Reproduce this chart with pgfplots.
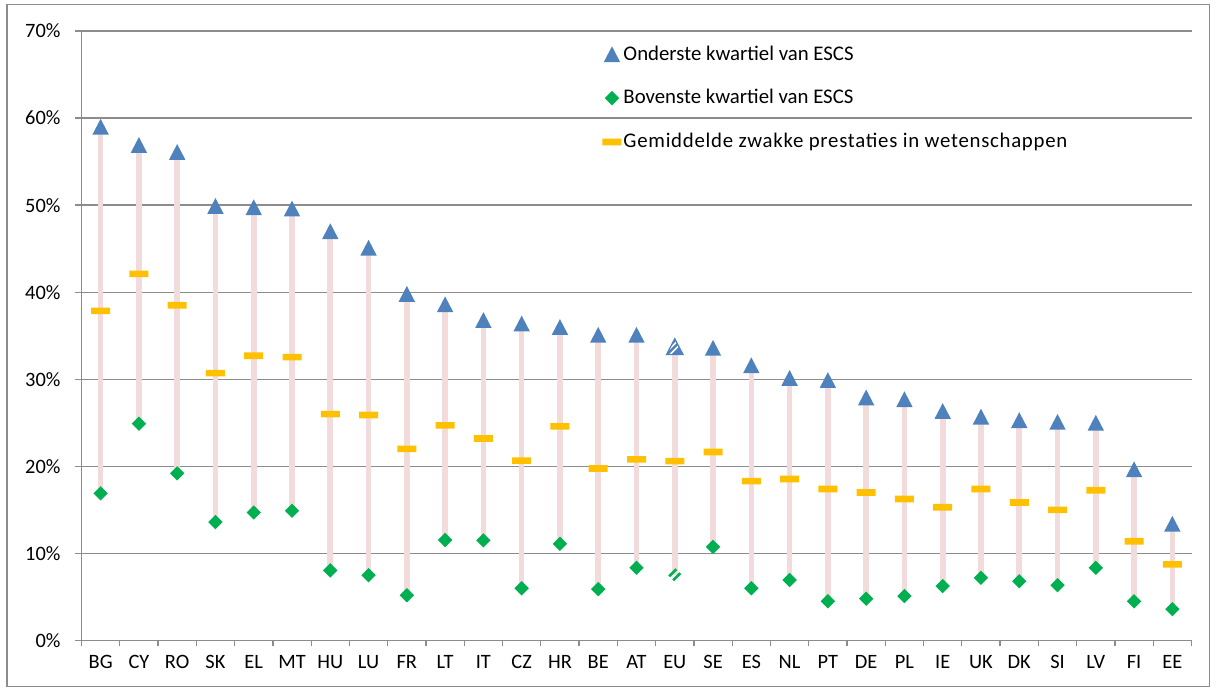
\documentclass[border=0pt]{standalone}
\usepackage{pgfplots}
\pgfplotsset{compat=1.18}
\usepackage{pgfplotstable}
\usepackage{fontspec}
\setmainfont{Carlito}

\definecolor{xblue}{HTML}{4F81BD}
\definecolor{xgreen}{HTML}{00B050}
\definecolor{xgold}{HTML}{FFC000}
\definecolor{xpink}{HTML}{F2DCDB}
\definecolor{xgrid}{HTML}{8C8C8C}

\pgfdeclareplotmark{xtri}{%
  \pgfpathmoveto{\pgfqpoint{0pt}{4pt}}%
  \pgfpathlineto{\pgfqpoint{4.1pt}{-3.9pt}}%
  \pgfpathlineto{\pgfqpoint{-4.1pt}{-3.9pt}}%
  \pgfpathclose
  \pgfsetfillcolor{xblue}\pgfusepathqfill}
\pgfdeclareplotmark{xdia}{%
  \pgfpathmoveto{\pgfqpoint{0pt}{3.6pt}}%
  \pgfpathlineto{\pgfqpoint{3.6pt}{0pt}}%
  \pgfpathlineto{\pgfqpoint{0pt}{-3.6pt}}%
  \pgfpathlineto{\pgfqpoint{-3.6pt}{0pt}}%
  \pgfpathclose
  \pgfsetfillcolor{xgreen}\pgfusepathqfill}
\pgfdeclareplotmark{xdash}{%
  \pgfscope
  \pgfsetcornersarced{\pgfqpoint{1.1pt}{1.1pt}}%
  \pgfpathmoveto{\pgfqpoint{-4.75pt}{0pt}}%
  \pgfpathlineto{\pgfqpoint{-4.75pt}{1.65pt}}%
  \pgfpathlineto{\pgfqpoint{4.75pt}{1.65pt}}%
  \pgfpathlineto{\pgfqpoint{4.75pt}{-1.65pt}}%
  \pgfpathlineto{\pgfqpoint{-4.75pt}{-1.65pt}}%
  \pgfpathclose
  \pgfsetfillcolor{xgold}\pgfusepathqfill
  \endpgfscope}
\pgfdeclareplotmark{eutri}{%
  \pgfscope
  \pgfpathmoveto{\pgfqpoint{0pt}{4pt}}%
  \pgfpathlineto{\pgfqpoint{4.1pt}{-3.9pt}}%
  \pgfpathlineto{\pgfqpoint{-4.1pt}{-3.9pt}}%
  \pgfpathclose
  \pgfsetfillcolor{xblue}\pgfusepathqfill
  \pgfpathmoveto{\pgfqpoint{0pt}{4pt}}%
  \pgfpathlineto{\pgfqpoint{4.1pt}{-3.9pt}}%
  \pgfpathlineto{\pgfqpoint{-4.1pt}{-3.9pt}}%
  \pgfpathclose
  \pgfusepath{clip}%
  \pgfsetstrokecolor{white}\pgfsetlinewidth{0.8pt}%
  \pgfpathmoveto{\pgfqpoint{-8pt}{-9.5pt}}\pgfpathlineto{\pgfqpoint{8pt}{6.5pt}}%
  \pgfpathmoveto{\pgfqpoint{-8pt}{-6.5pt}}\pgfpathlineto{\pgfqpoint{8pt}{9.5pt}}%
  \pgfpathmoveto{\pgfqpoint{-8pt}{-3.5pt}}\pgfpathlineto{\pgfqpoint{8pt}{12.5pt}}%
  \pgfusepathqstroke
  \endpgfscope
  \pgfpathmoveto{\pgfqpoint{0pt}{4pt}}%
  \pgfpathlineto{\pgfqpoint{4.1pt}{-3.9pt}}%
  \pgfpathlineto{\pgfqpoint{-4.1pt}{-3.9pt}}%
  \pgfpathclose
  \pgfsetstrokecolor{xblue}\pgfsetlinewidth{0.6pt}\pgfusepathqstroke}
\pgfdeclareplotmark{eudia}{%
  \pgfscope
  \pgfpathmoveto{\pgfqpoint{0pt}{3.6pt}}%
  \pgfpathlineto{\pgfqpoint{3.6pt}{0pt}}%
  \pgfpathlineto{\pgfqpoint{0pt}{-3.6pt}}%
  \pgfpathlineto{\pgfqpoint{-3.6pt}{0pt}}%
  \pgfpathclose
  \pgfusepath{clip}%
  \pgfsetstrokecolor{xgreen}\pgfsetlinewidth{1.3pt}%
  \pgfpathmoveto{\pgfqpoint{-6pt}{-4pt}}\pgfpathlineto{\pgfqpoint{6pt}{8pt}}%
  \pgfpathmoveto{\pgfqpoint{-6pt}{-8pt}}\pgfpathlineto{\pgfqpoint{6pt}{4pt}}%
  \pgfusepathqstroke
  \endpgfscope}

\pgfplotstableread{
x name high mid low
0 BG 59.0 37.85 16.9
1 CY 56.9 42.1 24.9
2 RO 56.1 38.5 19.2
3 SK 49.9 30.7 13.6
4 EL 49.75 32.7 14.7
5 MT 49.6 32.55 14.9
6 HU 47.0 26.0 8.05
7 LU 45.1 25.9 7.5
8 FR 39.8 22.0 5.2
9 LT 38.6 24.7 11.55
10 IT 36.8 23.2 11.5
11 CZ 36.4 20.65 6.0
12 HR 36.0 24.6 11.1
13 BE 35.1 19.75 5.9
14 AT 35.1 20.8 8.35
15 EU 33.75 20.6 7.55
16 SE 33.6 21.65 10.75
17 ES 31.6 18.3 6.0
18 NL 30.15 18.55 6.95
19 PT 29.9 17.4 4.5
20 DE 27.9 17.0 4.8
21 PL 27.7 16.25 5.1
22 IE 26.35 15.3 6.25
23 UK 25.7 17.4 7.2
24 DK 25.3 15.85 6.8
25 SI 25.1 15.0 6.35
26 LV 25.0 17.25 8.35
27 FI 19.65 11.4 4.5
28 EE 13.4 8.75 3.6
}\data

\begin{document}
\begin{tikzpicture}
\useasboundingbox (0,0) rectangle (606pt,345pt);
\draw[xgrid, line width=0.6pt] (3.5pt,1.6pt) rectangle (604.6pt,342.7pt);
\begin{axis}[
  at={(40.75pt,24.75pt)}, anchor=south west,
  scale only axis, width=555pt, height=304.75pt,
  xmin=-0.5, xmax=28.5, ymin=0, ymax=70,
  axis x line*=bottom, axis y line*=left,
  axis line style={xgrid, line width=0.65pt},
  tick align=outside, major tick length=3pt,
  tick style={xgrid, line width=0.65pt},
  ytick={0,10,...,70},
  yticklabels={0\%,10\%,20\%,30\%,40\%,50\%,60\%,70\%},
  ymajorgrids, grid style={xgrid, line width=0.65pt},
  xtick={-0.5,0.5,1.5,2.5,3.5,4.5,5.5,6.5,7.5,8.5,9.5,10.5,11.5,12.5,13.5,14.5,15.5,16.5,17.5,18.5,19.5,20.5,21.5,22.5,23.5,24.5,25.5,26.5,27.5,28.5},
  xticklabels={},
  extra x ticks={0,...,28},
  extra x tick labels={BG,CY,RO,SK,EL,MT,HU,LU,FR,LT,IT,CZ,HR,BE,AT,EU,SE,ES,NL,PT,DE,PL,IE,UK,DK,SI,LV,FI,EE},
  extra x tick style={major tick length=0pt, xticklabel style={yshift=-4pt}},
  ticklabel style={font=\fontsize{10.2}{12}\selectfont, text=black},
  yticklabel style={xshift=-4pt},
  legend style={at={(0.469,0.980)}, anchor=north west, draw=none, fill=none,
    font=\fontsize{10.4}{12}\selectfont, row sep=11.2pt, inner sep=0pt,
    nodes={inner sep=1pt}},
  legend cell align=left,
  legend image code/.code={\draw[mark repeat=2,mark phase=2,#1] plot coordinates {(0pt,0pt)(4.5pt,0pt)(9pt,0pt)};},
  clip=false,
]
\addplot[draw=none, mark=none, forget plot,
  error bars/.cd, y dir=plus, y explicit, error mark=none,
  error bar style={draw=xpink, line width=2.8pt}]
  table[x=x, y=low, y error expr=\thisrow{high}-\thisrow{low}] {\data};
\addplot[only marks, mark=xtri, skip coords between index={15}{16}]
  table[x=x, y=high] {\data};
\addplot[only marks, mark=xdia, skip coords between index={15}{16}]
  table[x=x, y=low] {\data};
\addplot[only marks, mark=xdash]
  table[x=x, y=mid] {\data};
\addplot[only marks, mark=eutri, forget plot] coordinates {(15,33.75)};
\addplot[only marks, mark=eudia, forget plot] coordinates {(15,7.55)};
\legend{Onderste kwartiel van ESCS, Bovenste kwartiel van ESCS, {\addfontfeature{LetterSpace=3.5}Gemiddelde zwakke prestaties in wetenschappen}}
\end{axis}
\end{tikzpicture}
\end{document}
